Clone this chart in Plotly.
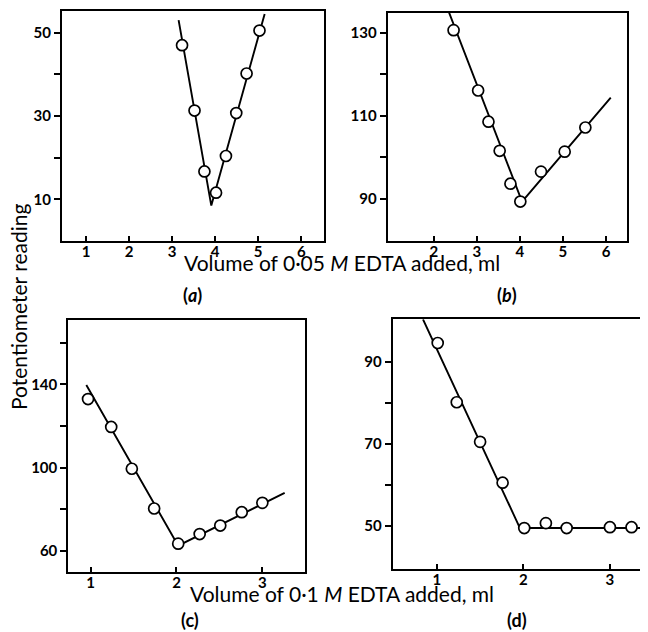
import plotly.graph_objects as go

# ---- data ----
# (a) 0.05 M EDTA
a_x = [3.23, 3.52, 3.75, 4.02, 4.25, 4.49, 4.73, 5.03]
a_y = [47.0, 31.3, 16.7, 11.6, 20.4, 30.7, 40.2, 50.5]
a_line_x = [3.15, 3.91, 5.15]
a_line_y = [53.0, 8.5, 54.5]

# (b) 0.05 M EDTA
b_x = [2.46, 3.03, 3.27, 3.53, 3.78, 4.01, 4.49, 5.04, 5.52]
b_y = [130.6, 116.1, 108.6, 101.6, 93.7, 89.4, 96.6, 101.4, 107.2]
b_line_x = [2.33, 4.05, 6.11]
b_line_y = [135.5, 89.4, 114.4]

# (c) 0.1 M EDTA
c_x = [0.97, 1.24, 1.48, 1.74, 2.02, 2.27, 2.51, 2.76, 3.0]
c_y = [132.9, 119.5, 99.4, 80.3, 63.4, 68.0, 72.1, 78.5, 83.0]
c_line_x = [0.95, 2.02, 3.26]
c_line_y = [139.7, 62.4, 87.8]

# (d) 0.1 M EDTA
d_x = [1.01, 1.23, 1.50, 1.76, 2.01, 2.26, 2.50, 3.00, 3.25]
d_y = [94.7, 80.2, 70.5, 60.5, 49.4, 50.6, 49.4, 49.6, 49.6]
d_line_x = [0.84, 1.96, 3.44]
d_line_y = [100.5, 49.4, 49.4]

# axis ticks
a_xticks = [1, 2, 3, 4, 5, 6]
a_yticks = [10, 20, 30, 40, 50]
a_ytext = ["10", "", "30", "", "50"]
b_xticks = [2, 3, 4, 5, 6]
b_yticks = [90, 100, 110, 120, 130]
b_ytext = ["90", "", "110", "", "130"]
c_xticks = [1, 2, 3]
c_yticks = [60, 80, 100, 120, 140, 160]
c_ytext = ["60", "", "100", "", "140", ""]
d_xticks = [1, 2, 3]
d_yticks = [50, 60, 70, 80, 90]
d_ytext = ["50", "", "70", "", "90"]

x_label_top = "Volume of 0·05 <i>M</i> EDTA added, ml"
x_label_bottom = "Volume of 0·1 <i>M</i> EDTA added, ml"
y_label = "Potentiometer reading"
panel_labels = ["(<i>a</i>)", "(<i>b</i>)", "(c)", "(d)"]

FONT = "Lato"

fig = go.Figure()

panels = [
    (a_x, a_y, a_line_x, a_line_y, "x", "y"),
    (b_x, b_y, b_line_x, b_line_y, "x2", "y2"),
    (c_x, c_y, c_line_x, c_line_y, "x3", "y3"),
    (d_x, d_y, d_line_x, d_line_y, "x4", "y4"),
]
for px, py, lx, ly, xa, ya in panels:
    fig.add_trace(go.Scatter(x=lx, y=ly, mode="lines", xaxis=xa, yaxis=ya,
                             line=dict(color="black", width=1.9),
                             showlegend=False, hoverinfo="skip"))
    fig.add_trace(go.Scatter(x=px, y=py, mode="markers", xaxis=xa, yaxis=ya,
                             marker=dict(symbol="circle", size=11, color="white",
                                         line=dict(color="black", width=1.7)),
                             cliponaxis=False, showlegend=False))

tickfont = dict(family=FONT, size=15, color="black", weight="bold")

def xax(domain, rng, ticks, anchor, mirror=True):
    return dict(domain=domain, range=rng, anchor=anchor, tickvals=ticks,
                ticktext=[str(t) for t in ticks], ticks="inside", ticklen=5,
                tickwidth=1.5, tickcolor="black", showline=True, linecolor="black",
                linewidth=2, mirror=mirror, showgrid=False, zeroline=False,
                tickfont=tickfont, ticklabelstandoff=-4, fixedrange=True)

def yax(domain, rng, ticks, text, anchor, mirror=True):
    return dict(domain=domain, range=rng, anchor=anchor, tickvals=ticks,
                ticktext=text, ticks="outside", ticklen=6, tickwidth=1.5,
                tickcolor="black", showline=True, linecolor="black", linewidth=2,
                mirror=mirror, showgrid=False, zeroline=False, tickfont=tickfont,
                fixedrange=True)

# page body adds an 8px offset, so the figure is 640x624 drawn at (8, 8)
fig.update_layout(
    width=640, height=624,
    margin=dict(l=0, r=0, t=0, b=0),
    paper_bgcolor="white", plot_bgcolor="white",
    font=dict(family=FONT, color="black"),
    xaxis=xax([0.0844, 0.4938], [0.44, 6.53], a_xticks, "y"),
    yaxis=yax([0.6266, 0.9952], [0, 55.2], a_yticks, a_ytext, "x"),
    xaxis2=xax([0.5933, 0.9667], [0.93, 6.48], b_xticks, "y2"),
    yaxis2=yax([0.6271, 0.9925], [80, 134.8], b_yticks, b_ytext, "x2"),
    xaxis3=xax([0.0942, 0.4645], [0.74, 3.5], c_xticks, "y3"),
    yaxis3=yax([0.0966, 0.5], [49.9, 170.9], c_yticks, c_ytext, "x3"),
    xaxis4=xax([0.6011, 1.0], [0.49, 3.44], d_xticks, "y4"),
    yaxis4=yax([0.1005, 0.5011], [39.3, 100.5], d_yticks, d_ytext, "x4", mirror=False),
)

ann_font = dict(family=FONT, size=21, color="black")
lab_font = dict(family=FONT, size=18, color="black", weight="bold")
fig.add_annotation(text=x_label_top, x=0.5219, y=0.5929, xref="paper", yref="paper",
                   showarrow=False, font=ann_font, xanchor="center", yanchor="middle")
fig.add_annotation(text=x_label_bottom, x=0.5219, y=0.0625, xref="paper", yref="paper",
                   showarrow=False, font=ann_font, xanchor="center", yanchor="middle")
fig.add_annotation(text=y_label, x=0.0156, y=0.5208, xref="paper", yref="paper",
                   showarrow=False, font=ann_font, textangle=-90,
                   xanchor="center", yanchor="middle")
for txt, xp, yp in zip(panel_labels, [0.289, 0.7797, 0.284, 0.795],
                       [0.54, 0.54, 0.0192, 0.0192]):
    fig.add_annotation(text=txt, x=xp, y=yp, xref="paper", yref="paper",
                       showarrow=False, font=lab_font, xanchor="center", yanchor="middle")

fig.write_html("out.html")
